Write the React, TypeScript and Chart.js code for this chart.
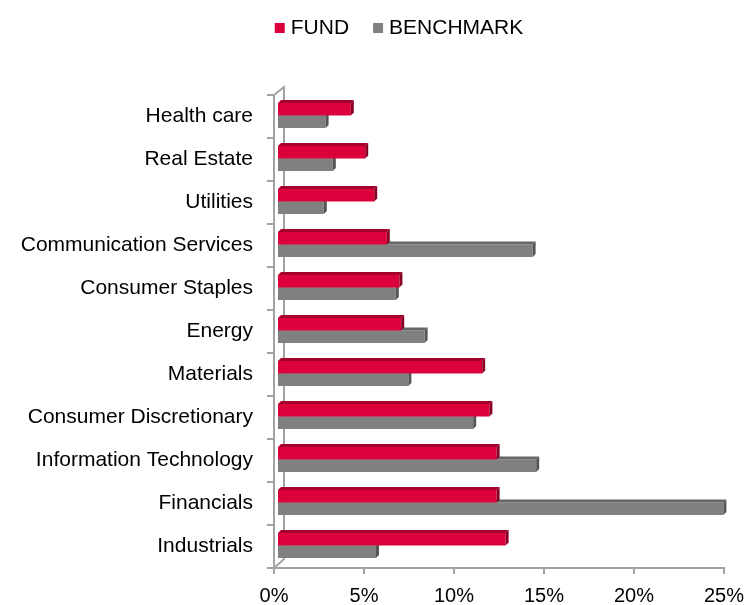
import React, { useEffect, useRef } from 'react';
import { Chart, registerables } from 'chart.js';

Chart.register(...registerables);

const categories = [
  'Health care',
  'Real Estate',
  'Utilities',
  'Communication Services',
  'Consumer Staples',
  'Energy',
  'Materials',
  'Consumer Discretionary',
  'Information Technology',
  'Financials',
  'Industrials',
];
const seriesNames = ['FUND', 'BENCHMARK'];
const fundValues = [4.1, 4.9, 5.4, 6.1, 6.8, 6.9, 11.4, 11.8, 12.2, 12.2, 12.7];
const benchmarkValues = [2.7, 3.1, 2.6, 14.2, 6.6, 8.2, 7.3, 10.9, 14.4, 24.8, 5.5];
const xTicks = [0, 5, 10, 15, 20, 25];

const FONT = '"Liberation Sans", Arial, Helvetica, sans-serif';
const AXIS_COLOR = '#a3a3a3';
const DEPTH = 3;

const faceColors = [
  { front: '#dc003b', top: '#a5002c', side: '#8a0025' },
  { front: '#808080', top: '#676767', side: '#555555' },
];

const threeD = {
  id: 'threeD',
  beforeDatasetsDraw(chart: any) {
    const ctx = chart.ctx;
    const a = chart.chartArea;
    // back wall / floor edges
    ctx.save();
    ctx.strokeStyle = AXIS_COLOR;
    ctx.lineWidth = 2;
    ctx.beginPath();
    ctx.moveTo(a.left, a.top);
    ctx.lineTo(a.left + 10, a.top - 8);
    ctx.lineTo(a.left + 10, a.bottom - 9);
    ctx.lineTo(a.left, a.bottom);
    ctx.stroke();
    ctx.restore();
    ctx.save();
    ctx.translate(DEPTH, -1);
  },
  afterDatasetDraw(chart: any, args: any) {
    const ctx = chart.ctx;
    const c = faceColors[args.index];
    args.meta.data.forEach((el: any) => {
      const p = el.getProps(['x', 'y', 'base', 'height'], true);
      const top = p.y - p.height / 2;
      const bottom = p.y + p.height / 2;
      ctx.fillStyle = c.top;
      ctx.beginPath();
      ctx.moveTo(p.base, top);
      ctx.lineTo(p.x, top);
      ctx.lineTo(p.x + DEPTH, top - DEPTH);
      ctx.lineTo(p.base + DEPTH, top - DEPTH);
      ctx.closePath();
      ctx.fill();
      ctx.fillStyle = c.side;
      ctx.beginPath();
      ctx.moveTo(p.x, top);
      ctx.lineTo(p.x + DEPTH, top - DEPTH);
      ctx.lineTo(p.x + DEPTH, bottom - DEPTH);
      ctx.lineTo(p.x, bottom);
      ctx.closePath();
      ctx.fill();
    });
  },
  afterDatasetsDraw(chart: any) {
    chart.ctx.restore();
  },
};

const legendPlugin = {
  id: 'customLegend',
  afterDraw(chart: any) {
    const ctx = chart.ctx;
    ctx.save();
    ctx.font = '21px ' + FONT;
    ctx.textBaseline = 'middle';
    ctx.textAlign = 'left';
    const box = 10;
    const gapBox = 6;
    const gapItem = 24;
    const widths = seriesNames.map((n) => ctx.measureText(n).width);
    let total = 0;
    widths.forEach((w, i) => {
      total += box + gapBox + w + (i < widths.length - 1 ? gapItem : 0);
    });
    let x = 399 - total / 2;
    const yc = 28;
    seriesNames.forEach((n, i) => {
      ctx.fillStyle = faceColors[i].front;
      ctx.fillRect(x, 23, box, box);
      x += box + gapBox;
      ctx.fillStyle = '#000000';
      ctx.fillText(n, x, yc);
      x += widths[i] + gapItem;
    });
    ctx.restore();
  },
};

export default function App() {
  const canvasRef = useRef<HTMLCanvasElement | null>(null);

  useEffect(() => {
    const canvas = canvasRef.current;
    if (!canvas) return;
    const chart = new Chart(canvas, {
      type: 'bar',
      data: {
        labels: categories,
        datasets: [
          {
            label: seriesNames[0],
            data: fundValues,
            backgroundColor: faceColors[0].front,
            borderWidth: 0,
            categoryPercentage: 0.58,
            barPercentage: 1,
            clip: false,
          } as any,
          {
            label: seriesNames[1],
            data: benchmarkValues,
            backgroundColor: faceColors[1].front,
            borderWidth: 0,
            categoryPercentage: 0.58,
            barPercentage: 1,
            clip: false,
          } as any,
        ],
      },
      options: {
        indexAxis: 'y',
        responsive: false,
        animation: false,
        devicePixelRatio: 1,
        layout: { padding: { top: 95, right: 24, left: 0, bottom: 0 } },
        plugins: {
          legend: { display: false },
          tooltip: { enabled: false },
        },
        scales: {
          x: {
            type: 'linear',
            min: 0,
            max: 25,
            afterBuildTicks: (s: any) => {
              s.ticks = xTicks.map((v) => ({ value: v }));
            },
            afterFit: (s: any) => {
              s.height = 37;
              s.paddingLeft = 0;
              s.paddingRight = 0;
            },
            ticks: {
              callback: (v: any) => v + '%',
              color: '#000000',
              font: { family: FONT, size: 20 },
              padding: 10,
              maxRotation: 0,
            },
            grid: {
              drawOnChartArea: false,
              drawTicks: true,
              tickLength: 6,
              color: AXIS_COLOR,
              lineWidth: 2,
            },
            border: { display: true, color: AXIS_COLOR, width: 2 },
          },
          y: {
            type: 'category',
            afterFit: (s: any) => {
              s.width = 274;
            },
            ticks: {
              color: '#000000',
              font: { family: FONT, size: 21 },
              padding: 14,
              autoSkip: false,
            },
            grid: {
              offset: true,
              drawOnChartArea: false,
              drawTicks: true,
              tickLength: 7,
              color: AXIS_COLOR,
              lineWidth: 2,
            },
            border: { display: true, color: AXIS_COLOR, width: 2 },
          },
        },
      } as any,
      plugins: [threeD, legendPlugin],
    });
    return () => chart.destroy();
  }, []);

  return (
    <div style={{ position: 'absolute', left: 0, top: 0, width: 748, height: 605, background: '#ffffff' }}>
      <canvas ref={canvasRef} width={748} height={605} style={{ display: 'block', width: 748, height: 605 }} />
    </div>
  );
}
